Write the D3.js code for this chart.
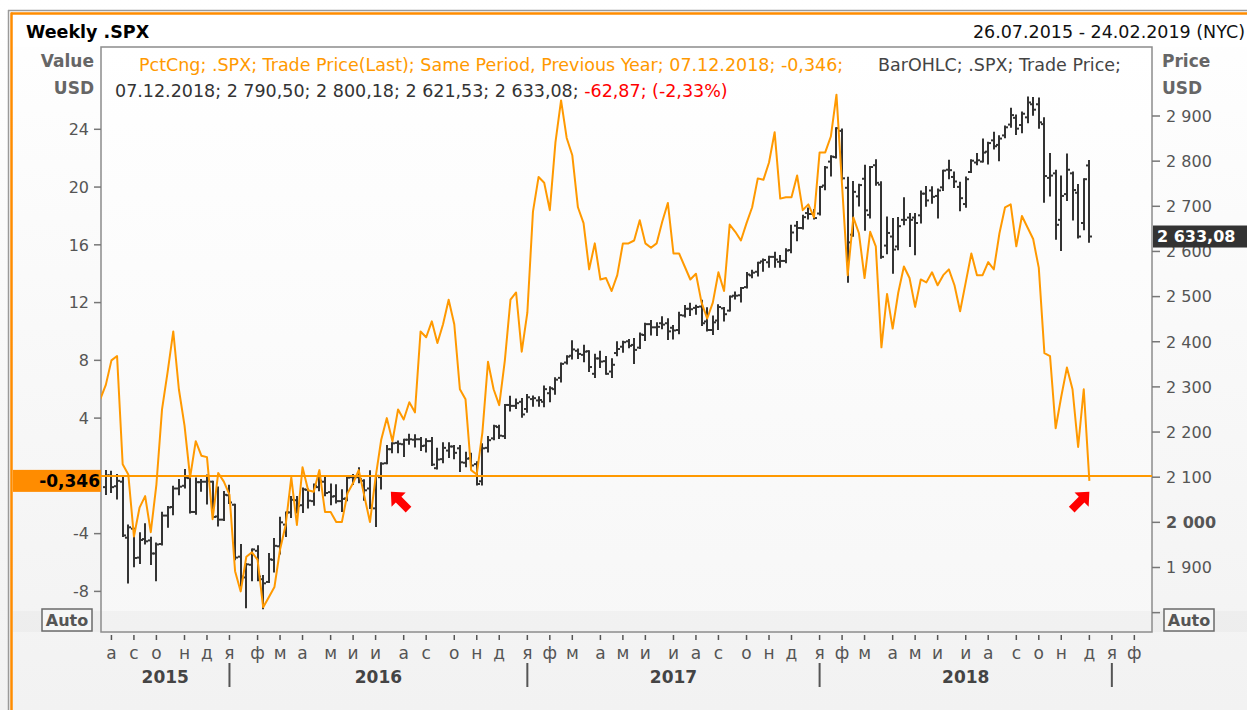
<!DOCTYPE html>
<html>
<head>
<meta charset="utf-8">
<script src="https://cdn.jsdelivr.net/npm/d3@7"></script>
<style>
  body { margin: 0; background: #fff; }
  svg { display: block; font-family: 'DejaVu Sans', Verdana, sans-serif; }
</style>
</head>
<body>
<svg id="chart" width="1247" height="710"></svg>
<script>
// weekly .SPX bars, first week ending 31.07.2015, last 07.12.2018
var barOpen = [
  2078,2104,2080,2090,1966,1986,1922,1963,1960,1931,
  1952,2015,2034,2075,2081,2098,2023,2089,2090,2090,
  2013,2006,2060,2039,1924,1878,1906,1937,1874,1868,
  1917,1947,1995,2022,2049,2038,2072,2047,2078,2090,
  2067,2058,2047,2053,2100,2100,2092,2075,2031,2100,
  2131,2162,2176,2173,2183,2183,2184,2170,2180,2120,
  2140,2159,2168,2164,2132,2142,2129,2091,2165,2186,
  2211,2191,2260,2258,2267,2251,2273,2270,2267,2286,
  2295,2320,2354,2369,2380,2371,2379,2329,2363,2357,
  2334,2375,2389,2401,2393,2387,2415,2439,2432,2441,
  2441,2431,2426,2458,2473,2475,2478,2445,2426,2447,
  2474,2469,2502,2503,2521,2547,2555,2578,2576,2588,
  2577,2579,2603,2657,2652,2685,2683,2684,2746,2799,
  2809,2867,2741,2637,2722,2761,2681,2791,2748,2613,
  2633,2611,2670,2675,2675,2680,2728,2735,2723,2742,
  2781,2765,2743,2705,2776,2797,2799,2821,2846,2836,
  2857,2881,2896,2880,2897,2926,2926,2882,2763,2773,
  2670,2727,2773,2730,2663,2790.50];
var barHigh = [
  2114,2112,2105,2102,1993,1986,1976,1996,1966,1953,
  2021,2034,2079,2094,2116,2098,2097,2094,2104,2090,
  2077,2067,2081,2039,1950,1908,1940,1947,1881,1930,
  1963,2010,2022,2056,2056,2075,2073,2084,2111,2099,
  2084,2082,2071,2100,2105,2120,2093,2113,2103,2131,
  2169,2175,2179,2183,2194,2193,2187,2184,2187,2163,
  2175,2175,2169,2169,2154,2152,2133,2173,2189,2214,
  2214,2260,2278,2272,2273,2282,2279,2277,2301,2299,
  2319,2352,2368,2401,2383,2391,2379,2371,2378,2366,
  2361,2399,2400,2404,2406,2418,2440,2446,2441,2454,
  2450,2435,2464,2479,2484,2480,2491,2474,2456,2481,
  2475,2500,2509,2519,2552,2557,2575,2582,2588,2597,
  2590,2605,2657,2665,2679,2695,2692,2743,2787,2811,
  2873,2870,2763,2754,2748,2790,2787,2802,2753,2675,
  2672,2674,2718,2683,2683,2733,2743,2742,2737,2779,
  2801,2775,2752,2764,2802,2816,2848,2841,2863,2855,
  2877,2916,2901,2908,2941,2940,2939,2895,2816,2779,
  2766,2815,2775,2747,2760,2800.18];
var barLow = [
  2063,2067,2053,1970,1867,1903,1910,1953,1908,1872,
  1951,1990,2018,2062,2077,2022,2019,2070,2042,2012,
  1993,2005,2043,1918,1857,1812,1872,1872,1810,1868,
  1891,1931,1970,2012,2022,2023,2033,2039,2071,2060,
  2040,2044,2025,2049,2085,2089,2050,2032,1992,2075,
  2131,2155,2155,2147,2174,2168,2160,2157,2127,2119,
  2133,2145,2142,2114,2124,2119,2084,2084,2157,2184,
  2187,2187,2248,2253,2234,2245,2258,2258,2257,2268,
  2285,2312,2352,2363,2364,2357,2335,2322,2344,2329,
  2322,2370,2378,2388,2353,2386,2404,2416,2415,2430,
  2406,2407,2419,2456,2459,2462,2437,2425,2417,2428,
  2447,2469,2496,2489,2520,2543,2547,2557,2566,2566,
  2566,2576,2598,2625,2651,2673,2673,2682,2738,2768,
  2808,2760,2533,2635,2702,2648,2675,2748,2586,2596,
  2553,2605,2660,2612,2594,2664,2701,2708,2675,2736,
  2762,2743,2691,2699,2776,2793,2799,2795,2828,2802,
  2853,2876,2860,2864,2886,2903,2874,2710,2724,2628,
  2603,2714,2671,2631,2649,2621.53];
var barClose = [
  2104,2078,2092,1971,1989,1921,1961,1958,1931,1951,
  2015,2033,2075,2079,2099,2023,2089,2090,2092,2012,
  2006,2061,2044,1922,1880,1907,1940,1880,1865,1918,
  1948,2000,2022,2050,2036,2073,2048,2081,2092,2065,
  2057,2047,2052,2099,2099,2096,2071,2037,2103,2130,
  2162,2175,2174,2183,2184,2184,2169,2180,2128,2139,
  2165,2168,2154,2133,2141,2126,2085,2164,2182,2213,
  2192,2260,2258,2264,2239,2277,2275,2271,2295,2297,
  2316,2351,2367,2383,2373,2378,2344,2363,2356,2329,
  2349,2384,2399,2391,2382,2416,2439,2432,2433,2438,
  2423,2425,2459,2473,2472,2477,2441,2426,2443,2477,
  2461,2500,2502,2519,2549,2553,2575,2581,2588,2582,
  2579,2602,2642,2652,2676,2683,2674,2743,2786,2810,
  2873,2762,2620,2732,2747,2691,2787,2752,2588,2641,
  2604,2656,2670,2670,2663,2728,2713,2721,2735,2779,
  2780,2755,2718,2760,2801,2802,2819,2840,2833,2850,
  2875,2902,2872,2905,2930,2914,2886,2767,2768,2659,
  2723,2781,2736,2633,2760,2633.08];

// PctCng vs same period previous year, weekly from 24.07.2015
var pctChange = [
  5.3,6.3,8.0,8.3,0.8,0.1,-4.2,-2.2,-1.4,-3.9,
  -0.6,4.6,7.2,10.0,6.0,3.5,-0.1,2.4,1.4,1.3,
  -3.0,0.2,-0.4,-1.3,-6.6,-8.0,-5.6,-5.3,-5.8,-9.1,
  -8.4,-7.7,-5.1,-3.4,-0.1,-3.4,0.6,-1.0,-1.1,0.4,
  -2.5,-2.5,-3.2,-3.2,-1.2,-0.5,0.4,-1.4,-3.2,-0.1,
  2.5,4.0,2.4,4.6,3.9,5.1,4.4,10.0,9.6,10.7,
  9.2,10.5,12.2,10.5,6.0,5.3,0.4,0.1,3.0,7.9,
  6.0,4.9,8.0,12.2,12.7,8.6,11.3,18.3,20.7,20.3,
  18.4,23.1,26.0,23.4,22.2,18.6,17.5,14.3,16.1,13.6,
  13.7,12.8,13.9,16.1,16.1,16.3,17.7,16.1,15.8,16.1,
  17.6,18.9,15.4,15.4,14.5,13.6,14.0,12.0,10.9,12.0,
  14.1,12.8,17.4,16.9,16.3,17.5,18.6,20.6,20.5,21.7,
  23.8,19.2,19.3,19.3,20.8,18.4,18.8,17.9,22.4,22.4,
  23.5,26.4,20.1,13.9,17.9,16.8,13.7,16.9,15.9,8.9,
  12.6,10.2,12.7,14.5,13.7,11.7,13.6,13.4,14.1,13.2,
  13.9,14.3,13.2,11.4,13.4,15.4,13.9,13.9,14.8,14.3,
  16.8,18.6,18.8,15.9,18.0,17.2,16.4,14.4,8.5,8.3,
  3.3,5.5,7.5,6.0,2.0,6.0,-0.346];

var lastPct = -0.346;
var lastPrice = 2633.08;
var leftTicks = [-8, -4, 4, 8, 12, 16, 20, 24];
var rightTicks = [1900, 2000, 2100, 2200, 2300, 2400, 2500, 2600, 2700, 2800, 2900];
var monthLetters = ['я','ф','м','а','м','и','и','а','с','о','н','д'];
var years = [2015, 2016, 2017, 2018];

var titleText = 'Weekly .SPX';
var rangeText = '26.07.2015 - 24.02.2019 (NYC)';
var legendPct = 'PctCng; .SPX; Trade Price(Last); Same Period, Previous Year; 07.12.2018; -0,346;';
var legendBar = 'BarOHLC; .SPX; Trade Price;';
var legendValues = '07.12.2018; 2 790,50; 2 800,18; 2 621,53; 2 633,08; ';
var legendChange = '-62,87; (-2,33%)';

var barDates = d3.timeFriday.range(new Date(2015, 6, 31), new Date(2018, 11, 8));
var pctDates = d3.timeFriday.range(new Date(2015, 6, 24), new Date(2018, 11, 8));

var plot = {left: 101, top: 47, right: 1152, bottom: 632};
var orange = '#ff9900';
var barColor = '#333';

var loc = d3.formatLocale({decimal: ',', thousands: ' ', grouping: [3], currency: ['', ''], minus: '-'});
var fmtInt = loc.format(',d');
var fmt2 = loc.format(',.2f');
var fmt3 = loc.format(',.3f');

var x = d3.scaleTime()
  .domain([new Date(2015, 6, 25), new Date(2019, 1, 23)])
  .range([plot.left, plot.right]);
var yL = d3.scaleLinear().domain([-8, 24]).range([591.4, 129.3]);
var yR = d3.scaleLinear().domain([1900, 2900]).range([567.5, 116]);

var svg = d3.select('#chart');
var defs = svg.append('defs');

var bg = defs.append('linearGradient').attr('id', 'bgGrad')
  .attr('x1', 0).attr('y1', 0).attr('x2', 0).attr('y2', 1);
bg.append('stop').attr('offset', '0%').attr('stop-color', '#ffffff');
bg.append('stop').attr('offset', '100%').attr('stop-color', '#f2f2f2');

var pg = defs.append('linearGradient').attr('id', 'plotGrad')
  .attr('x1', 0).attr('y1', 0).attr('x2', 0).attr('y2', 1);
pg.append('stop').attr('offset', '0%').attr('stop-color', '#ffffff');
pg.append('stop').attr('offset', '100%').attr('stop-color', '#f7f7f7');

defs.append('clipPath').attr('id', 'plotClip')
  .append('rect')
  .attr('x', plot.left).attr('y', plot.top)
  .attr('width', plot.right - plot.left).attr('height', plot.bottom - plot.top);

// background + frame
svg.append('rect').attr('width', 1247).attr('height', 710).attr('fill', 'url(#bgGrad)');
svg.append('rect').attr('x', 13).attr('y', 15).attr('width', 1234).attr('height', 32).attr('fill', '#fff');
svg.append('line').attr('x1', 8).attr('x2', 1247).attr('y1', 10.5).attr('y2', 10.5)
  .attr('stroke', '#9a9a9a').attr('stroke-width', 1.5);
svg.append('line').attr('x1', 11).attr('x2', 1247).attr('y1', 13.5).attr('y2', 13.5)
  .attr('stroke', '#ff8c00').attr('stroke-width', 2.5);
svg.append('line').attr('x1', 8.5).attr('x2', 8.5).attr('y1', 10).attr('y2', 710)
  .attr('stroke', '#9a9a9a').attr('stroke-width', 1.5);
svg.append('line').attr('x1', 11.5).attr('x2', 11.5).attr('y1', 12.5).attr('y2', 710)
  .attr('stroke', '#ff8c00').attr('stroke-width', 2.5);

// plot area
svg.append('rect')
  .attr('x', plot.left).attr('y', plot.top)
  .attr('width', plot.right - plot.left).attr('height', plot.bottom - plot.top)
  .attr('fill', 'url(#plotGrad)');
// lower "Auto" band
svg.append('rect').attr('x', 13).attr('y', 611).attr('width', 1234).attr('height', 21)
  .attr('fill', '#000').attr('opacity', 0.025);
svg.append('rect')
  .attr('x', plot.left).attr('y', plot.top)
  .attr('width', plot.right - plot.left).attr('height', plot.bottom - plot.top)
  .attr('fill', 'none').attr('stroke', '#8c8c8c').attr('stroke-width', 1.5);

// header
svg.append('text').attr('x', 26).attr('y', 38).attr('font-size', 17.5).attr('font-weight', 'bold')
  .attr('fill', '#000').text(titleText);
svg.append('text').attr('x', 1245).attr('y', 38).attr('font-size', 17.5).attr('text-anchor', 'end')
  .attr('fill', '#111').text(rangeText);

// axis titles
[['Value', 67], ['USD', 94]].forEach(function(t) {
  svg.append('text').attr('x', 94).attr('y', t[1]).attr('text-anchor', 'end')
    .attr('font-size', 17).attr('font-weight', 'bold').attr('fill', '#666').text(t[0]);
});
[['Price', 67], ['USD', 94]].forEach(function(t) {
  svg.append('text').attr('x', 1162).attr('y', t[1])
    .attr('font-size', 17).attr('font-weight', 'bold').attr('fill', '#666').text(t[0]);
});

// left axis
var gl = svg.append('g');
gl.selectAll('line').data(leftTicks).enter().append('line')
  .attr('x1', 94).attr('x2', plot.left)
  .attr('y1', function(d) { return yL(d); }).attr('y2', function(d) { return yL(d); })
  .attr('stroke', '#777').attr('stroke-width', 1.5);
gl.selectAll('text').data(leftTicks).enter().append('text')
  .attr('x', 89).attr('y', function(d) { return yL(d); }).attr('dy', '0.36em')
  .attr('text-anchor', 'end').attr('font-size', 16).attr('fill', '#555')
  .text(function(d) { return fmtInt(d); });

// right axis
var gr = svg.append('g');
gr.selectAll('line').data(rightTicks.concat([1800])).enter().append('line')
  .attr('x1', plot.right).attr('x2', 1160)
  .attr('y1', function(d) { return yR(d); }).attr('y2', function(d) { return yR(d); })
  .attr('stroke', '#777').attr('stroke-width', 1.5);
gr.selectAll('text').data(rightTicks).enter().append('text')
  .attr('x', 1166).attr('y', function(d) { return yR(d); }).attr('dy', '0.36em')
  .attr('font-size', 16).attr('fill', '#555')
  .attr('font-weight', function(d) { return d === 2000 ? 'bold' : 'normal'; })
  .text(function(d) { return fmtInt(d); });

// Auto boxes
[[42, 'Auto'], [1164, 'Auto']].forEach(function(a) {
  svg.append('rect').attr('x', a[0]).attr('y', 609).attr('width', 50).attr('height', 22)
    .attr('fill', '#f6f6f6').attr('stroke', '#6a6a6a').attr('stroke-width', 1.5);
  svg.append('text').attr('x', a[0] + 25).attr('y', 626).attr('text-anchor', 'middle')
    .attr('font-size', 16).attr('font-weight', 'bold').attr('fill', '#555').text(a[1]);
});

// x axis: month ticks at first weekly bar of each month
var monthTicks = d3.timeMonth.range(new Date(2015, 7, 1), new Date(2019, 2, 1))
  .map(function(m) { return {month: m.getMonth(), date: d3.timeFriday.ceil(m)}; });
var gx = svg.append('g');
gx.selectAll('line').data(monthTicks).enter().append('line')
  .attr('x1', function(d) { return x(d.date); }).attr('x2', function(d) { return x(d.date); })
  .attr('y1', 635).attr('y2', 640).attr('stroke', '#555').attr('stroke-width', 1.5);
gx.selectAll('text').data(monthTicks).enter().append('text')
  .attr('x', function(d) { return x(d.date); }).attr('y', 659)
  .attr('text-anchor', 'middle').attr('font-size', 17).attr('fill', '#555')
  .text(function(d) { return monthLetters[d.month]; });

var yearStarts = [2016, 2017, 2018, 2019].map(function(y) { return d3.timeFriday.ceil(new Date(y, 0, 1)); });
svg.selectAll('.ysep').data(yearStarts).enter().append('line')
  .attr('x1', function(d) { return x(d); }).attr('x2', function(d) { return x(d); })
  .attr('y1', 663).attr('y2', 687).attr('stroke', '#555').attr('stroke-width', 2);
svg.selectAll('.ylab').data(years).enter().append('text')
  .attr('x', function(d, i) {
    var a = i === 0 ? plot.left : x(yearStarts[i - 1]);
    return (a + x(yearStarts[i])) / 2;
  })
  .attr('y', 683).attr('text-anchor', 'middle').attr('font-size', 17).attr('font-weight', 'bold')
  .attr('fill', '#444').text(function(d) { return d; });

// legend
svg.append('text').attr('x', 139).attr('y', 71).attr('font-size', 17.5).attr('fill', orange).text(legendPct);
svg.append('text').attr('x', 878).attr('y', 71).attr('font-size', 17.5).attr('fill', '#444').text(legendBar);
var lv = svg.append('text').attr('x', 115).attr('y', 97).attr('font-size', 17.5);
lv.append('tspan').attr('fill', '#333').text(legendValues);
lv.append('tspan').attr('fill', '#f00').text(legendChange);

// data layer
var gd = svg.append('g').attr('clip-path', 'url(#plotClip)');

// OHLC bars
var bars = barDates.map(function(d, i) {
  return {date: d, o: barOpen[i], h: barHigh[i], l: barLow[i], c: barClose[i]};
});
var gb = gd.append('g').attr('stroke', barColor).attr('stroke-width', 2);
bars.forEach(function(b) {
  var cx = Math.round(x(b.date));
  gb.append('line').attr('x1', cx).attr('x2', cx).attr('y1', yR(b.h) - 1).attr('y2', yR(b.l) + 1);
  gb.append('line').attr('x1', cx - 3).attr('x2', cx).attr('y1', yR(b.o)).attr('y2', yR(b.o));
  gb.append('line').attr('x1', cx).attr('x2', cx + 3).attr('y1', yR(b.c)).attr('y2', yR(b.c));
});

// zero line
gd.append('line').attr('x1', plot.left).attr('x2', plot.right)
  .attr('y1', yL(0)).attr('y2', yL(0)).attr('stroke', orange).attr('stroke-width', 2);

// percent change line
var pctData = pctDates.map(function(d, i) { return {date: d, v: pctChange[i]}; });
gd.append('path').datum(pctData)
  .attr('fill', 'none').attr('stroke', orange).attr('stroke-width', 2).attr('stroke-linejoin', 'round')
  .attr('d', d3.line().x(function(d) { return x(d.date); }).y(function(d) { return yL(d.v); }));

// value labels on the axes
var yp = yL(lastPct);
svg.append('rect').attr('x', 13).attr('y', yp - 11).attr('width', plot.left - 13).attr('height', 22)
  .attr('fill', '#ff8c00');
svg.append('text').attr('x', plot.left - 1).attr('y', yp).attr('dy', '0.36em').attr('text-anchor', 'end')
  .attr('font-size', 17).attr('font-weight', 'bold').attr('fill', '#000').text(fmt3(lastPct));

var ypr = yR(lastPrice);
svg.append('rect').attr('x', plot.right + 1).attr('y', ypr - 11).attr('width', 1247 - plot.right - 1).attr('height', 22)
  .attr('fill', '#333');
svg.append('text').attr('x', plot.right + 5).attr('y', ypr).attr('dy', '0.36em')
  .attr('font-size', 16).attr('font-weight', 'bold').attr('fill', '#fff').text(fmt2(lastPrice));

// red arrows
var arrowPath = 'M0,0 L10,11 L4,11 L4,25 L-4,25 L-4,11 L-10,11 Z';
var arrows = [{date: new Date(2016, 6, 20), angle: -45}, {date: new Date(2018, 11, 7), angle: 45}];
svg.selectAll('.arrow').data(arrows).enter().append('path')
  .attr('d', arrowPath).attr('fill', '#ff0000')
  .attr('transform', function(d) {
    return 'translate(' + x(d.date) + ',' + (yL(lastPct) + 11) + ') rotate(' + d.angle + ')';
  });
</script>
</body>
</html>
